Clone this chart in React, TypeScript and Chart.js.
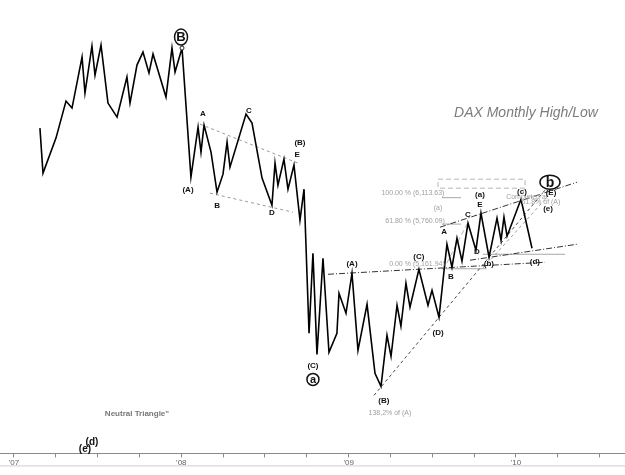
import React, { useEffect, useRef } from "react";
import { Chart, registerables } from "chart.js";

Chart.register(...registerables);

// Month index (0 = Jan 2007) and DAX monthly high/low swing points
const months = [1.86, 2.08, 3.01, 3.73, 4.16, 4.88, 5.09, 5.59, 5.81, 6.24, 6.74, 7.39, 8.10, 8.32, 8.82, 9.25, 9.68, 9.97, 10.90, 11.33, 11.55, 12.05, 12.69, 13.20, 13.41, 13.63, 14.13, 14.56, 14.99, 15.28, 15.49, 16.64, 17.07, 17.79, 18.50, 18.72, 18.93, 19.36, 19.65, 20.08, 20.51, 20.80, 21.16, 21.44, 21.73, 22.16, 22.59, 23.16, 23.31, 23.81, 24.24, 24.67, 25.32, 25.89, 26.32, 26.75, 27.04, 27.47, 27.75, 28.11, 28.40, 29.04, 29.69, 29.98, 30.48, 31.05, 31.41, 31.77, 32.13, 32.56, 33.13, 33.49, 34.07, 34.64, 34.93, 35.14, 35.36, 36.36, 37.15];
const prices = [7045, 6442, 6911, 7407, 7313, 7996, 7514, 8144, 7755, 8157, 7380, 7192, 7728, 7380, 7889, 8063, 7782, 8036, 7460, 8117, 7795, 8117, 6388, 7058, 6723, 7085, 6723, 6187, 6428, 6857, 6522, 7232, 7112, 6375, 6013, 6576, 6281, 6629, 6227, 6549, 5812, 6227, 4298, 5370, 4016, 5303, 4043, 4298, 4834, 4566, 5102, 4070, 4686, 3762, 3588, 4271, 3990, 4673, 4392, 4968, 4646, 5155, 4673, 4874, 4512, 5490, 5182, 5571, 5263, 5772, 5410, 5906, 5316, 5839, 5544, 5852, 5598, 6093, 5437];

// Axis ticks (quarters) and year labels
const quarterTicks = [0, 3, 6, 9, 12, 15, 18, 21, 24, 27, 30, 33, 36, 39, 42];
const yearTickValues = [0, 12, 24, 36];
const yearTickLabels = ["'07", "'08", "'09", "'10"];

// Guide lines (x in months, y in index points)
const guideX = [
  [13.34, 20.37],
  [14.06, 20.01],
  [22.52, 38.08],
  [25.82, 38.08],
  [33.63, 38.3],
  [30.55, 40.38],
  [32.7, 40.38],
  [33.63, 39.52],
  [30.69, 32.06],
  [30.69, 32.06],
  [30.69, 33.9],
  [30.41, 36.65, 36.65, 30.41, 30.41],
  [30.77, 32.56],
];
const guideY = [
  [7098, 6576],
  [6174, 5919],
  [5088, 5249],
  [3467, 6214],
  [5169, 6134],
  [5718, 6321],
  [5276, 5490],
  [5356, 5356],
  [6113.63, 6113.63],
  [5760.09, 5760.09],
  [5161.94, 5161.94],
  [6361, 6361, 6241, 6241, 6361],
  [5142, 5785],
];
// style kind per guide line
const guideKind = ["greyDash", "greyDash", "dashDot", "dash", "greyDash", "dashDot", "dashDot", "greySolid", "greySolid", "greySolid", "greySolid", "lightDash", "lightDash"];

// Wave labels
const waveText = ["A", "C", "(A)", "B", "D", "(B)", "E", "(C)", "(A)", "(C)", "(B)", "(D)", "B", "A", "C", "E", "(a)", "D", "(b)", "(d)", "(c)", "(E)", "(e)"];
const waveX = [13.55, 16.85, 12.48, 14.56, 18.5, 20.51, 20.3, 21.44, 24.24, 29.04, 26.53, 30.41, 31.34, 30.84, 32.56, 33.42, 33.42, 33.2, 34.06, 37.36, 36.43, 38.51, 38.3];
const waveY = [7232, 7273, 6214, 6000, 5906, 6844, 6683, 3869, 5222, 5316, 3400, 4311, 5048, 5651, 5879, 6013, 6147, 5383, 5222, 5249, 6187, 6174, 5960];

const bigText = ["(e)", "(d)"];
const bigX = [5.09, 5.59];
const bigY = [2743, 2837];

const circledText = ["B", "a", "b"];
const circledX = [11.98, 21.44, 38.44];
const circledY = [8264, 3681, 6321];

const noteText = ["138,2% of (A)", "Neutral Triangle\"", "100.00 % (6,113.63)", "(a)", "61.80 % (5,760.09)", "0.00 % (5,161.94)", "Completed at", "61.8% of (A)"];
const noteX = [26.96, 8.82, 28.61, 30.41, 28.76, 28.9, 36.79, 37.79];
const noteY = [3226, 3226, 6174, 5973, 5799, 5222, 6120, 6053];

const titleText = "DAX Monthly High/Low";
const titleX = 36.72;
const titleY = 7246;

const peakX = 12.05;
const peakY = 8117;

const FONT = '"Liberation Sans", Arial, sans-serif';

const annotPlugin = {
  id: "annot",
  afterDatasetsDraw(chart: any) {
    const { ctx, scales, chartArea } = chart;
    const xs = scales.x;
    const ys = scales.y;
    const px = (v: number) => xs.getPixelForValue(v);
    const py = (v: number) => ys.getPixelForValue(v);
    ctx.save();
    ctx.textAlign = "center";
    ctx.textBaseline = "middle";

    // title
    ctx.font = `italic 14px ${FONT}`;
    ctx.fillStyle = "#7c7c7c";
    ctx.fillText(titleText, px(titleX), py(titleY));

    // notes
    ctx.font = `7px ${FONT}`;
    ctx.fillStyle = "#a0a0a0";
    noteText.forEach((t, i) => {
      if (t.startsWith("Neutral")) {
        ctx.font = `bold 8px ${FONT}`;
        ctx.fillStyle = "#777";
      } else {
        ctx.font = `7px ${FONT}`;
        ctx.fillStyle = "#a0a0a0";
      }
      ctx.fillText(t, px(noteX[i]), py(noteY[i]));
    });

    // wave labels
    ctx.font = `bold 8px ${FONT}`;
    ctx.fillStyle = "#111";
    waveText.forEach((t, i) => ctx.fillText(t, px(waveX[i]), py(waveY[i])));

    ctx.font = `bold 10px ${FONT}`;
    bigText.forEach((t, i) => ctx.fillText(t, px(bigX[i]), py(bigY[i])));

    // circled labels
    const sizes = [
      { f: 13, rx: 6.5, ry: 8 },
      { f: 11, rx: 6, ry: 6 },
      { f: 14, rx: 10, ry: 7 },
    ];
    circledText.forEach((t, i) => {
      const cx = px(circledX[i]);
      const cy = py(circledY[i]);
      const s = sizes[i];
      ctx.beginPath();
      ctx.ellipse(cx, cy, s.rx, s.ry, 0, 0, Math.PI * 2);
      ctx.lineWidth = 1.5;
      ctx.strokeStyle = "#111";
      ctx.stroke();
      ctx.font = `bold ${s.f}px ${FONT}`;
      ctx.fillText(t, cx, cy + 0.5);
    });

    // small circle at the peak
    ctx.beginPath();
    ctx.arc(px(peakX), py(peakY), 2, 0, Math.PI * 2);
    ctx.fillStyle = "#fff";
    ctx.fill();
    ctx.lineWidth = 1;
    ctx.strokeStyle = "#222";
    ctx.stroke();

    // bottom frame line
    ctx.beginPath();
    ctx.moveTo(0, chartArea.bottom + 12.5);
    ctx.lineTo(chart.width, chartArea.bottom + 12.5);
    ctx.strokeStyle = "#cfcfcf";
    ctx.lineWidth = 1;
    ctx.stroke();
    ctx.restore();
  },
};

function guideStyle(kind: string) {
  switch (kind) {
    case "greyDash":
      return { borderColor: "#9a9a9a", borderDash: [3, 3], borderWidth: 1 };
    case "dashDot":
      return { borderColor: "#333", borderDash: [6, 2, 1, 2], borderWidth: 1 };
    case "dash":
      return { borderColor: "#444", borderDash: [3, 3], borderWidth: 1 };
    case "greySolid":
      return { borderColor: "#a8a8a8", borderDash: [], borderWidth: 1 };
    default:
      return { borderColor: "#b5b5b5", borderDash: [5, 3], borderWidth: 1 };
  }
}

export default function App() {
  const ref = useRef<HTMLCanvasElement | null>(null);
  useEffect(() => {
    if (!ref.current) return;
    const guideSets = guideX.map((xsArr, i) => ({
      type: "line" as const,
      data: xsArr.map((x, j) => ({ x, y: guideY[i][j] })),
      pointRadius: 0,
      tension: 0,
      fill: false,
      ...guideStyle(guideKind[i]),
    }));
    const chart = new Chart(ref.current, {
      type: "line",
      data: {
        datasets: [
          {
            data: months.map((m, i) => ({ x: m, y: prices[i] })),
            borderColor: "#000",
            borderWidth: 1.6,
            pointRadius: 0,
            tension: 0,
            fill: false,
          },
          ...guideSets,
        ] as any,
      },
      options: {
        animation: false,
        responsive: false,
        devicePixelRatio: 1,
        layout: { padding: { left: 0, right: 0, top: 0, bottom: 6 } },
        plugins: { legend: { display: false }, tooltip: { enabled: false }, title: { display: false } },
        scales: {
          x: {
            type: "linear",
            min: -1.004,
            max: 43.82,
            afterBuildTicks: (scale: any) => {
              scale.ticks = quarterTicks.map((v) => ({ value: v }));
            },
            ticks: {
              autoSkip: false,
              maxRotation: 0,
              padding: 1,
              color: "#666",
              font: { size: 8, family: FONT },
              callback: (v: any) => {
                const k = yearTickValues.indexOf(Number(v));
                return k >= 0 ? yearTickLabels[k] : "";
              },
            },
            grid: { drawOnChartArea: false, drawTicks: true, tickLength: 4, color: "#8a8a8a" },
            border: { color: "#8a8a8a", width: 1 },
          },
          y: {
            type: "linear",
            display: false,
            min: 2690,
            max: 8760,
          },
        },
      },
      plugins: [annotPlugin],
    });
    return () => chart.destroy();
  }, []);
  return (
    <canvas
      ref={ref}
      width={625}
      height={475}
      style={{ position: "absolute", left: 0, top: 0, width: 625, height: 475, background: "#fff" }}
    />
  );
}
